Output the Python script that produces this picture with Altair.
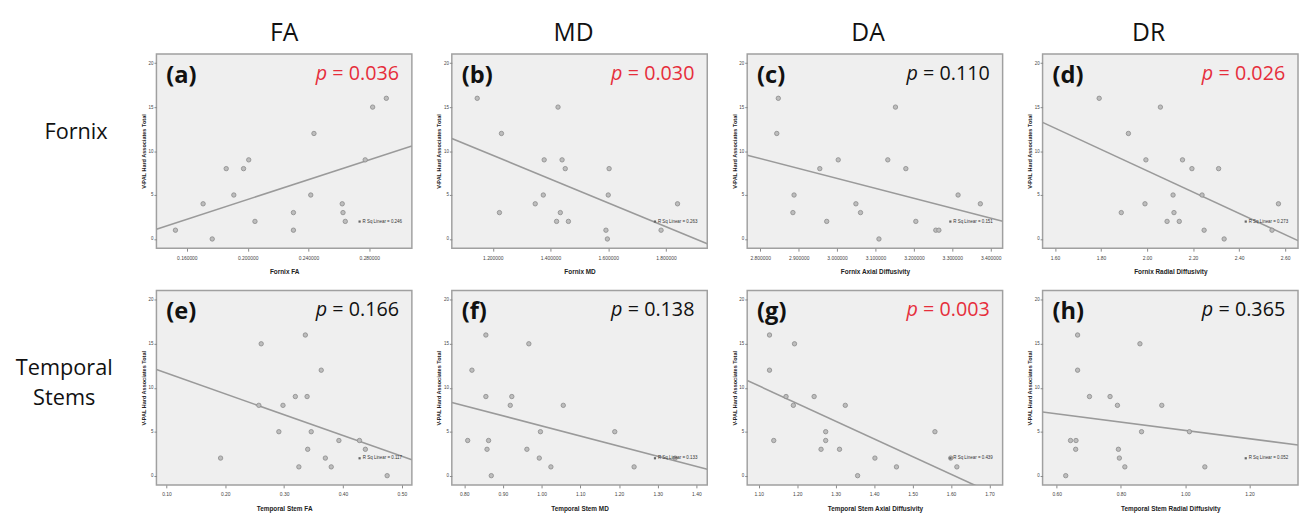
import altair as alt
import pandas as pd

# ---------------- data ----------------
col_headers = ["FA", "MD", "DA", "DR"]
row_labels = ["Fornix", "Temporal\nStems"]
panel_letters = ["(a)", "(b)", "(c)", "(d)", "(e)", "(f)", "(g)", "(h)"]
p_values = ["0.036", "0.030", "0.110", "0.026", "0.166", "0.138", "0.003", "0.365"]
p_signif = [True, True, False, True, False, False, True, False]
r_sq = ["0.246", "0.263", "0.151", "0.273", "0.117", "0.133", "0.439", "0.052"]
x_titles = ["Fornix FA", "Fornix MD", "Fornix Axial Diffusivity", "Fornix Radial Diffusivity",
            "Temporal Stem FA", "Temporal Stem MD", "Temporal Stem Axial Diffusivity",
            "Temporal Stem Radial Diffusivity"]
y_title = "V-PAL Hard Associates Total"

a_x = [0.1525, 0.1767, 0.1707, 0.1859, 0.1909, 0.1973, 0.2007, 0.2048, 0.2301, 0.2301,
       0.2415, 0.2436, 0.2622, 0.2627, 0.2642, 0.2773, 0.2822, 0.2912]
a_y = [1, 0, 4, 8, 5, 8, 9, 2, 3, 1, 5, 12, 4, 3, 2, 9, 15, 16]

b_x = [1.146, 1.426, 1.230, 1.378, 1.440, 1.451, 1.603, 1.375, 1.600, 1.347, 1.840, 1.223,
       1.434, 1.421, 1.462, 1.592, 1.783, 1.597]
b_y = [16, 15, 12, 9, 9, 8, 8, 5, 5, 4, 4, 3, 3, 2, 2, 1, 1, 0]

c_x = [2.847, 3.152, 2.843, 3.003, 3.132, 2.955, 3.179, 2.888, 3.315, 3.049, 3.373, 2.885,
       3.061, 2.973, 3.205, 3.257, 3.265, 3.109]
c_y = [16, 15, 12, 9, 9, 8, 8, 5, 5, 4, 4, 3, 3, 2, 2, 1, 1, 0]

d_x = [1.792, 2.058, 1.919, 1.995, 2.154, 2.195, 2.311, 2.113, 2.239, 1.991, 2.571, 1.888,
       2.117, 2.087, 2.140, 2.248, 2.543, 2.335]
d_y = [16, 15, 12, 9, 9, 8, 8, 5, 5, 4, 4, 3, 3, 2, 2, 1, 1, 0]

e_x = [0.336, 0.261, 0.363, 0.319, 0.339, 0.257, 0.298, 0.291, 0.346, 0.393, 0.428, 0.340,
       0.438, 0.192, 0.370, 0.325, 0.380, 0.475]
e_y = [16, 15, 12, 9, 9, 8, 8, 5, 5, 4, 4, 3, 3, 2, 2, 1, 1, 0]

f_x = [0.856, 0.967, 0.820, 0.856, 0.923, 0.919, 1.056, 0.997, 1.189, 0.809, 0.863, 0.859,
       0.962, 0.994, 1.345, 1.024, 1.239, 0.870]
f_y = [16, 15, 12, 9, 9, 8, 8, 5, 5, 4, 4, 3, 3, 2, 2, 1, 1, 0]

g_x = [1.128, 1.193, 1.128, 1.171, 1.244, 1.190, 1.325, 1.274, 1.558, 1.139, 1.274, 1.262,
       1.310, 1.402, 1.599, 1.458, 1.615, 1.357]
g_y = [16, 15, 12, 9, 9, 8, 8, 5, 5, 4, 4, 3, 3, 2, 2, 1, 1, 0]

h_x = [0.665, 0.859, 0.665, 0.702, 0.766, 0.789, 0.927, 0.864, 1.013, 0.643, 0.660, 0.659,
       0.792, 0.795, 0.812, 1.061, 0.628]
h_y = [16, 15, 12, 9, 9, 8, 8, 5, 5, 4, 4, 3, 3, 2, 1, 1, 0]

x_domains = [[0.140, 0.308], [1.058, 1.943], [2.766, 3.431], [1.546, 2.656],
             [0.083, 0.517], [0.768, 1.428], [1.070, 1.734], [0.556, 1.351]]
x_ticks = [[0.16, 0.18, 0.20, 0.22, 0.24, 0.26, 0.28, 0.30],
           [1.2, 1.4, 1.6, 1.8],
           [2.8, 2.9, 3.0, 3.1, 3.2, 3.3, 3.4],
           [1.6, 1.8, 2.0, 2.2, 2.4, 2.6],
           [0.1, 0.2, 0.3, 0.4, 0.5],
           [0.8, 0.9, 1.0, 1.1, 1.2, 1.3, 1.4],
           [1.1, 1.2, 1.3, 1.4, 1.5, 1.6, 1.7],
           [0.6, 0.8, 1.0, 1.2]]
x_formats = [".6f", ".6f", ".6f", ".2f", ".2f", ".2f", ".2f", ".2f"]
y_domain = [-1.05, 21.05]
y_ticks = [0, 5, 10, 15, 20]

xs_all = [a_x, b_x, c_x, d_x, e_x, f_x, g_x, h_x]
ys_all = [a_y, b_y, c_y, d_y, e_y, f_y, g_y, h_y]

# ---------------- layout / style ----------------
W, H = 259, 197
LABEL_W = 111
RED = "#e62e3b"
header_dx = [0, -6, -7, -22]


def panel(i):
    df = pd.DataFrame({"x": xs_all[i], "y": ys_all[i]})
    xsc = alt.Scale(domain=x_domains[i], nice=False, zero=False)
    ysc = alt.Scale(domain=y_domain, nice=False, zero=False)
    xaxis = alt.Axis(values=x_ticks[i], format=x_formats[i], title=x_titles[i],
                     grid=False, domain=False, tickSize=3, tickColor="#888888",
                     labelFontSize=5, labelColor="#444444", labelPadding=4,
                     labelFont="Liberation Sans", titleFont="Liberation Sans",
                     titleFontSize=6.5, titleFontWeight="bold", titleColor="#222222",
                     titlePadding=9)
    yaxis = alt.Axis(values=y_ticks, format="d", title=y_title,
                     grid=False, domain=False, tickSize=2.5, tickColor="#888888",
                     labelFontSize=4.5, labelColor="#444444", labelPadding=1,
                     labelFont="Liberation Sans", titleFont="Liberation Sans",
                     titleFontSize=5.6, titleFontWeight="bold", titleColor="#222222",
                     titlePadding=1.5)
    base = alt.Chart(df)
    line = base.transform_regression("x", "y", extent=x_domains[i]).mark_line(
        color="#9a9a9a", strokeWidth=1.6, clip=True
    ).encode(x=alt.X("x:Q", scale=xsc, axis=xaxis), y=alt.Y("y:Q", scale=ysc, axis=yaxis))
    pts = base.mark_circle(size=20, fill="#bdbdbd", stroke="#8a8a8a", strokeWidth=0.8,
                           opacity=1).encode(x="x:Q", y="y:Q")

    tdf = pd.DataFrame({"letter": [panel_letters[i]], "pnum": ["= " + p_values[i]],
                        "p": ["p"], "r": ["R Sq Linear = " + r_sq[i]]})
    tb = alt.Chart(tdf)
    pcol = RED if p_signif[i] else "#111111"
    letter = tb.mark_text(font="Open Sans", fontSize=24, fontWeight="bold", align="left",
                          baseline="alphabetic", color="#111111").encode(
        text="letter:N", x=alt.value(10), y=alt.value(29))
    pnum = tb.mark_text(font="Open Sans", fontSize=20, align="right",
                        baseline="alphabetic", color=pcol).encode(
        text="pnum:N", x=alt.value(W - 13), y=alt.value(26))
    pit = tb.mark_text(font="Open Sans", fontSize=20, fontStyle="italic", align="right",
                       baseline="alphabetic", color=pcol).encode(
        text="p:N", x=alt.value(W - 13 - 68 - 5), y=alt.value(26))
    rtxt = tb.mark_text(font="Liberation Sans", fontSize=4.5, align="right",
                        baseline="middle", color="#333333").encode(
        text="r:N", x=alt.value(W - 10), y=alt.value(170))
    rmark = tb.mark_square(size=5, color="#666666", opacity=1).encode(
        x=alt.value(W - 53), y=alt.value(170))

    ch = alt.layer(line, pts, letter, pnum, pit, rtxt, rmark).properties(width=W, height=H)
    if i < 4:
        ch = ch.properties(title=alt.TitleParams(
            text=col_headers[i], fontSize=25, font="Open Sans", fontWeight="normal",
            anchor="middle", frame="group", offset=8, color="#111111", dx=header_dx[i]))
    return ch


def row_label(r, cx, cy):
    df = pd.DataFrame({"t": [row_labels[r]]})
    return alt.Chart(df).mark_text(font="Open Sans", fontSize=22, lineBreak="\n",
                                   lineHeight=30, align="center", baseline="middle",
                                   color="#111111").encode(
        text="t:N", x=alt.value(cx), y=alt.value(cy)
    ).properties(width=LABEL_W, height=H,
                 view=alt.ViewBackground(fill="#ffffff", strokeOpacity=0))


cells = [row_label(0, 69, 79)] + [panel(i) for i in range(4)] + \
        [row_label(1, 57, 79)] + [panel(i) for i in range(4, 8)]

chart = alt.concat(*cells, columns=5, spacing={"row": 13, "column": 23.5}).properties(
    padding={"left": 0, "top": 9, "right": 0, "bottom": 0}
).configure_view(fill="#efefef", stroke="#a0a0a0", strokeWidth=1.5)

chart.save("out.html", embed_options={"renderer": "svg", "actions": False})
